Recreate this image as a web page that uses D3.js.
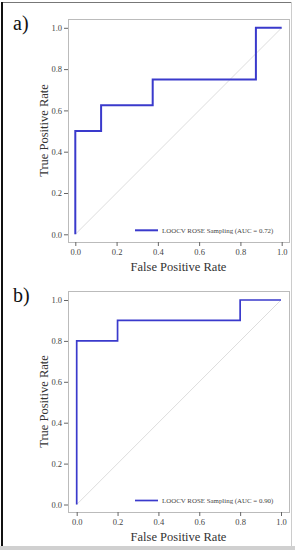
<!DOCTYPE html>
<html lang="en">
<head>
    <meta charset="UTF-8">
    <title>ROC curves</title>
    <script src="https://d3js.org/d3.v7.min.js"></script>
    <style>
        body { margin: 0; background: #fff; }
        .tick line { stroke: #666; }
        .domain { display: none; }
    </style>
</head>
<body>
<svg id="chart" width="295" height="550"></svg>
<script>
    // panel a
    const fprA = [0, 0, 0.125, 0.125, 0.375, 0.375, 0.875, 0.875, 1];
    const tprA = [0, 0.5, 0.5, 0.625, 0.625, 0.75, 0.75, 1, 1];
    const labelA = "LOOCV ROSE Sampling (AUC = 0.72)";
    // panel b
    const fprB = [0, 0, 0.2, 0.2, 0.8, 0.8, 1];
    const tprB = [0, 0.8, 0.8, 0.9, 0.9, 1, 1];
    const labelB = "LOOCV ROSE Sampling (AUC = 0.90)";
    const ticks = [0, 0.2, 0.4, 0.6, 0.8, 1.0];

    const serif = "Liberation Serif";
    const svg = d3.select("#chart");

    // outer frame
    svg.append("rect").attr("x", 0).attr("y", 546).attr("width", 295).attr("height", 4).attr("fill", "#d0d0d0");
    svg.append("line").attr("x1", 2).attr("x2", 292).attr("y1", 2.5).attr("y2", 2.5).attr("stroke", "#777").attr("stroke-width", 1);
    svg.append("line").attr("x1", 291.5).attr("x2", 291.5).attr("y1", 2).attr("y2", 546).attr("stroke", "#ccc").attr("stroke-width", 1);
    svg.append("line").attr("x1", 2).attr("x2", 2).attr("y1", 2).attr("y2", 546).attr("stroke", "#111").attr("stroke-width", 2);

    function panel(tag, fpr, tpr, label, box, x0, x1, y0, y1, lw) {
        const x = d3.scaleLinear().domain([0, 1]).range([x0, x1]);
        const y = d3.scaleLinear().domain([0, 1]).range([y0, y1]);
        const g = svg.append("g");

        g.append("rect").attr("x", box.left + 0.5).attr("y", box.top + 0.5)
            .attr("width", box.right - box.left).attr("height", box.bottom - box.top)
            .attr("fill", "none").attr("stroke", "#bbb").attr("stroke-width", 1);

        // chance line
        g.append("line").attr("x1", x(0)).attr("y1", y(0)).attr("x2", x(1)).attr("y2", y(1))
            .attr("stroke", "#ddd").attr("stroke-width", 1);

        g.append("g").attr("transform", `translate(${box.left},0)`)
            .call(d3.axisLeft(y).tickValues(ticks).tickFormat(d3.format(".1f")).tickSize(4).tickPadding(2))
            .attr("font-family", serif).attr("font-size", 8.5)
            .selectAll("text").attr("fill", "#444");
        g.append("g").attr("transform", `translate(0,${box.bottom})`)
            .call(d3.axisBottom(x).tickValues(ticks).tickFormat(d3.format(".1f")).tickSize(4).tickPadding(3))
            .attr("font-family", serif).attr("font-size", 8.5)
            .selectAll("text").attr("fill", "#444");

        const pts = fpr.map((f, i) => [x(f), y(tpr[i])]);
        g.append("path").attr("d", d3.line()(pts)).attr("fill", "none")
            .attr("stroke", "#3a3acc").attr("stroke-width", lw);

        // legend
        const ly = y(0) - 4;
        g.append("line").attr("x1", 135).attr("x2", 158).attr("y1", ly).attr("y2", ly)
            .attr("stroke", "#3a3acc").attr("stroke-width", lw);
        g.append("text").attr("x", 162).attr("y", ly + 2.5).attr("font-family", serif)
            .attr("font-size", 6.9).attr("fill", "#444").text(label);

        g.append("text").attr("x", (box.left + box.right) / 2).attr("y", box.bottom + 29)
            .attr("text-anchor", "middle").attr("font-family", serif).attr("font-size", 12.5)
            .attr("fill", "#333").text("False Positive Rate");
        g.append("text").attr("transform", `translate(48,${(box.top + box.bottom) / 2}) rotate(-90)`)
            .attr("text-anchor", "middle").attr("font-family", serif).attr("font-size", 12.5)
            .attr("fill", "#333").text("True Positive Rate");

        g.append("text").attr("x", 13).attr("y", box.top + 11).attr("font-family", serif)
            .attr("font-size", 20).attr("fill", "#111").text(tag);
    }

    panel("a)", fprA, tprA, labelA, {left: 68, right: 289, top: 19, bottom: 242}, 75.3, 281.7, 234.3, 27.8, 2);
    panel("b)", fprB, tprB, labelB, {left: 68, right: 289, top: 291, bottom: 512}, 76.7, 281, 504.5, 300, 1.7);
</script>
</body>
</html>
